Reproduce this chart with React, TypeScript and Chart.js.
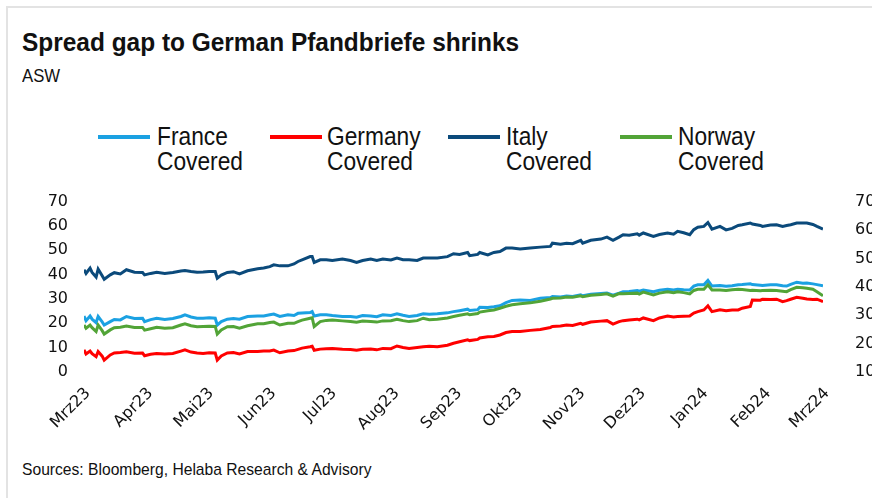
import React, { useEffect, useRef } from "react";
import { Chart, registerables } from "chart.js";

Chart.register(...registerables);

const TITLE = "Spread gap to German Pfandbriefe shrinks";
const SUBTITLE = "ASW";
const SOURCE = "Sources: Bloomberg, Helaba Research & Advisory";

const START_DATE = "2023-03-01";
const tickDates = ["2023-03-01","2023-04-01","2023-05-01","2023-06-01","2023-07-01","2023-08-01","2023-09-01","2023-10-01","2023-11-01","2023-12-01","2024-01-01","2024-02-01","2024-03-01"];
const tickLabels = ["Mrz23","Apr23","Mai23","Jun23","Jul23","Aug23","Sep23","Okt23","Nov23","Dez23","Jan24","Feb24","Mrz24"];

const dates = [
  "2023-03-01","2023-03-02","2023-03-04","2023-03-05","2023-03-07","2023-03-08","2023-03-10","2023-03-11","2023-03-14","2023-03-16",
  "2023-03-19","2023-03-22","2023-03-26","2023-03-30","2023-03-31","2023-04-03","2023-04-06","2023-04-10","2023-04-14","2023-04-18",
  "2023-04-20","2023-04-23","2023-04-26","2023-04-29","2023-05-02","2023-05-05","2023-05-06","2023-05-08","2023-05-11","2023-05-14",
  "2023-05-17","2023-05-21","2023-05-26","2023-05-29","2023-06-01","2023-06-03","2023-06-06","2023-06-10","2023-06-13","2023-06-15",
  "2023-06-17","2023-06-21","2023-06-22","2023-06-23","2023-06-26","2023-06-29","2023-07-02","2023-07-07","2023-07-11","2023-07-14",
  "2023-07-17","2023-07-21","2023-07-24","2023-07-27","2023-07-31","2023-08-03","2023-08-06","2023-08-09","2023-08-13","2023-08-16",
  "2023-08-19","2023-08-23","2023-08-28","2023-08-31","2023-09-03","2023-09-07","2023-09-08","2023-09-12","2023-09-13","2023-09-17",
  "2023-09-20","2023-09-23","2023-09-26","2023-09-29","2023-10-03","2023-10-08","2023-10-13","2023-10-18","2023-10-19","2023-10-23",
  "2023-10-26","2023-10-29","2023-11-02","2023-11-03","2023-11-07","2023-11-12","2023-11-15","2023-11-18","2023-11-21","2023-11-23",
  "2023-11-26","2023-11-30","2023-12-01","2023-12-03","2023-12-08","2023-12-11","2023-12-15","2023-12-18","2023-12-20","2023-12-23",
  "2023-12-26","2023-12-28","2023-12-30","2024-01-02","2024-01-04","2024-01-06","2024-01-10","2024-01-13","2024-01-16","2024-01-19",
  "2024-01-21","2024-01-25","2024-01-26","2024-01-30","2024-01-31","2024-02-04","2024-02-07","2024-02-10","2024-02-12","2024-02-14",
  "2024-02-17","2024-02-20","2024-02-22","2024-02-25","2024-02-27","2024-03-01"
];

const italy = [
  42.0,40.5,42.7,40.9,39.0,42.3,39.5,38.1,39.9,40.8,
  40.3,42.0,41.0,40.9,39.9,40.5,41.0,40.5,40.9,41.5,
  41.7,41.3,41.0,41.1,41.3,41.3,38.5,39.8,40.9,41.2,
  40.3,41.6,42.4,42.7,43.3,44.0,43.6,43.6,44.4,45.4,
  46.1,47.4,47.4,45.0,46.1,46.1,45.8,46.4,45.8,45.0,
  45.8,46.4,45.8,46.4,46.0,46.8,46.1,46.1,45.8,46.8,
  46.8,46.8,47.4,48.6,48.3,49.1,47.8,48.3,49.1,48.1,
  49.1,49.5,50.9,50.9,50.5,50.9,51.3,51.6,52.9,52.5,
  52.9,52.7,54.1,52.9,54.1,54.6,55.4,54.1,55.4,56.4,
  56.2,56.8,56.2,57.1,55.7,56.5,57.1,56.6,57.8,57.2,
  56.4,58.5,59.5,59.8,61.4,58.7,59.8,58.4,59.0,60.2,
  60.5,61.2,60.8,60.2,59.8,60.4,60.5,59.8,60.2,60.5,
  61.2,61.2,61.2,60.6,59.8,58.7
];

const france = [
  23.0,21.1,23.0,21.7,20.3,22.8,20.6,19.3,20.7,21.6,
  21.4,22.8,22.0,22.1,20.7,21.5,22.1,21.6,22.0,22.8,
  23.5,22.6,22.1,22.1,22.3,22.1,19.3,20.7,21.7,22.0,
  21.7,22.8,23.0,23.0,23.5,23.8,22.8,23.5,23.2,24.1,
  24.2,24.4,24.8,23.0,23.5,23.5,23.2,22.8,22.8,22.5,
  23.2,23.0,22.7,23.5,23.2,23.9,23.3,22.8,23.2,23.9,
  23.7,23.9,24.3,24.8,25.2,25.8,25.3,25.6,26.6,26.5,
  26.8,27.2,28.5,29.4,29.6,29.4,30.3,30.6,31.0,30.8,
  31.2,31.0,31.7,31.3,31.9,32.2,32.4,31.6,32.4,33.0,
  33.1,33.5,33.2,33.7,33.0,33.6,34.0,33.7,34.0,33.8,
  33.7,35.3,35.8,35.8,37.6,35.3,35.5,35.2,35.4,35.8,
  35.9,36.2,35.9,35.6,35.5,35.8,35.8,35.4,35.3,36.0,
  36.9,36.5,36.6,36.2,35.9,35.4
];

const norway = [
  19.3,18.0,19.3,18.2,16.6,19.3,17.0,15.6,17.3,18.2,
  18.4,18.9,18.3,18.3,17.2,17.8,18.4,18.0,18.2,19.3,
  19.8,19.0,18.6,18.7,18.8,18.7,15.6,17.3,18.6,18.7,
  18.0,19.0,19.8,19.8,20.3,20.5,19.3,20.0,20.0,20.7,
  21.3,22.1,22.3,18.7,20.7,21.2,21.4,21.0,20.7,20.4,
  20.9,20.7,20.5,21.0,21.1,21.7,21.1,20.7,21.1,22.1,
  21.5,21.7,22.2,22.8,23.3,23.9,23.5,24.0,24.6,25.2,
  25.5,26.2,27.0,27.6,28.0,28.4,29.1,30.0,30.3,30.4,
  30.8,30.7,31.3,30.9,31.5,31.8,32.1,31.2,32.2,32.1,
  32.2,32.4,32.0,32.8,31.7,32.4,33.0,32.6,33.0,32.6,
  32.1,33.5,34.0,34.0,35.8,33.7,33.7,33.5,33.8,34.0,
  33.9,33.5,33.6,33.4,33.5,33.6,33.5,33.2,33.0,33.8,
  34.8,34.6,34.4,34.0,33.0,31.3
];

const germany = [
  9.1,7.4,8.6,7.5,6.3,8.4,6.5,4.9,7.0,7.8,
  8.0,8.3,7.7,7.8,6.7,7.3,7.6,7.4,7.6,8.6,
  9.1,8.2,7.8,7.6,7.9,7.8,4.9,6.6,7.8,8.0,
  7.4,8.4,8.4,8.6,8.6,9.0,7.9,8.6,8.8,9.3,
  9.8,10.4,10.6,8.9,9.4,9.6,9.7,9.3,9.2,8.9,
  9.3,9.4,9.1,9.7,9.6,10.7,10.1,9.7,10.1,10.4,
  10.6,10.4,11.0,11.8,12.4,13.2,12.9,13.4,14.0,14.5,
  14.6,15.2,16.2,16.6,16.6,17.1,17.5,18.3,18.7,18.9,
  19.3,19.1,20.0,19.6,20.5,20.9,21.1,19.7,20.7,21.1,
  21.4,21.7,21.4,22.2,21.1,22.2,23.0,22.6,22.8,22.9,
  23.0,24.2,24.8,25.5,27.2,24.8,25.6,25.2,25.5,25.5,
  26.2,26.9,29.6,29.5,29.9,29.8,29.9,28.9,29.3,29.9,
  30.7,30.3,30.0,29.8,29.9,28.9
];

const seriesNames = ["France\nCovered", "Germany\nCovered", "Italy\nCovered", "Norway\nCovered"];
const seriesColors = ["#1ba1e2", "#ff0000", "#0b4a7b", "#52a437"];
const seriesValues = [france, germany, italy, norway];

const DAY = 86400000;
const dayOffset = (d: string) => Math.round((Date.parse(d) - Date.parse(START_DATE)) / DAY);

const SANS = '"Liberation Sans", Arial, sans-serif';
const TICKFONT = '"DejaVu Sans", sans-serif';

const scaled = (sx: number): React.CSSProperties => ({ transform: `scaleX(${sx})`, transformOrigin: "0 0" });

export default function App() {
  const ref = useRef<HTMLCanvasElement>(null);

  useEffect(() => {
    if (!ref.current) return;
    const xs = dates.map(dayOffset);
    const tickPos = tickDates.map(dayOffset);
    const orders = [4, 3, 2, 1];
    const chart = new Chart(ref.current, {
      type: "line",
      data: {
        datasets: seriesValues.map((vals, i) => ({
          label: seriesNames[i].replace("\n", " "),
          data: vals.map((v, j) => ({ x: xs[j], y: v })),
          borderColor: seriesColors[i],
          backgroundColor: seriesColors[i],
          borderWidth: 3,
          pointRadius: 0,
          tension: 0,
          order: orders[i],
          yAxisID: "y",
        })),
      },
      options: {
        responsive: false,
        animation: false,
        events: [],
        layout: { padding: { top: 0, left: 0, right: 0, bottom: 0 } },
        plugins: { legend: { display: false }, tooltip: { enabled: false }, title: { display: false } },
        scales: {
          x: {
            type: "linear",
            min: tickPos[0],
            max: tickPos[tickPos.length - 1],
            grid: { display: false, drawTicks: false },
            border: { display: false },
            afterBuildTicks: (scale: any) => {
              scale.ticks = tickPos.map((v) => ({ value: v }));
            },
            afterFit: (scale: any) => {
              scale.height = 78;
            },
            ticks: {
              autoSkip: false,
              minRotation: 45,
              maxRotation: 45,
              padding: 12,
              labelOffset: 4,
              color: "#111",
              font: { family: TICKFONT, size: 16 },
              callback: (v: any) => {
                const idx = tickPos.indexOf(Number(v));
                return idx >= 0 ? tickLabels[idx] : "";
              },
            },
          },
          y: {
            position: "left",
            min: 0,
            max: 70,
            grid: { display: false, drawTicks: false },
            border: { display: false },
            afterFit: (scale: any) => {
              scale.width = 84;
            },
            ticks: { stepSize: 10, autoSkip: false, padding: 16, color: "#111", font: { family: TICKFONT, size: 16 } },
          },
          y2: {
            position: "right",
            min: 10,
            max: 70,
            grid: { display: false, drawTicks: false },
            border: { display: false },
            afterFit: (scale: any) => {
              scale.width = 70;
            },
            ticks: { stepSize: 10, autoSkip: false, padding: 32, color: "#111", font: { family: TICKFONT, size: 16 } },
          },
        },
      },
    });
    return () => chart.destroy();
  }, []);

  const legendX = [
    { line: 98, text: 157 },
    { line: 270, text: 327 },
    { line: 448, text: 506 },
    { line: 620, text: 678 },
  ];

  return (
    <div style={{ position: "fixed", left: 0, top: 0, width: 872, height: 498, overflow: "hidden", background: "#fff" }}>
      <div style={{ position: "absolute", left: 6, top: 6, right: -10, bottom: -10, borderTop: "2px solid #e3e3e3", borderLeft: "2px solid #e3e3e3" }} />
      <div style={{ position: "absolute", left: 22, top: 27, fontFamily: SANS, fontWeight: 700, fontSize: 26, color: "#111", whiteSpace: "nowrap", lineHeight: "30px", ...scaled(0.94) }}>{TITLE}</div>
      <div style={{ position: "absolute", left: 22, top: 65, fontFamily: SANS, fontSize: 18, color: "#111", lineHeight: "22px", ...scaled(0.93) }}>{SUBTITLE}</div>
      {seriesNames.map((n, i) => (
        <React.Fragment key={n}>
          <div style={{ position: "absolute", left: legendX[i].line, top: 135, width: 52, height: 4, background: seriesColors[i] }} />
          <div style={{ position: "absolute", left: legendX[i].text, top: 124, fontFamily: SANS, fontSize: 25, color: "#111", lineHeight: "25px", whiteSpace: "pre", ...scaled(0.91) }}>{n}</div>
        </React.Fragment>
      ))}
      <canvas ref={ref} width={893} height={290} style={{ position: "absolute", left: 0, top: 160, width: 893, height: 290 }} />
      <div style={{ position: "absolute", left: 22, top: 459, fontFamily: SANS, fontSize: 17, color: "#111", lineHeight: "22px", whiteSpace: "nowrap", ...scaled(0.92) }}>{SOURCE}</div>
    </div>
  );
}
